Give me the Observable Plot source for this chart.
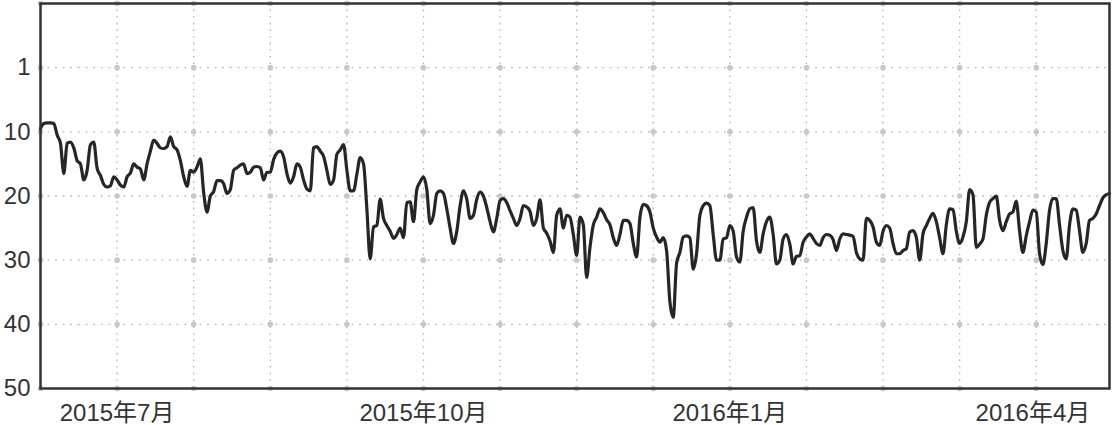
<!DOCTYPE html>
<html>
<head>
<meta charset="utf-8">
<script src="https://cdn.jsdelivr.net/npm/d3@7"></script>
<script src="https://cdn.jsdelivr.net/npm/@observablehq/plot@0.6"></script>
<style>
  html, body { margin: 0; padding: 0; background: #fff; }
  #chart svg { display: block; }
</style>
</head>
<body>
<div id="chart"></div>
<script>
// Daily rank series starting 2015-06-08
const startDate = "2015-06-08";
const endDate = "2016-04-24";
const rank = [
  9.5, 8.7, 8.6, 8.6, 8.7, 10.5, 11.8, 16.5, 11.8, 11.6,
  12.5, 14.5, 15.0, 17.5, 16.0, 12.0, 11.6, 15.7, 16.8, 18.2,
  18.6, 18.4, 17.0, 17.5, 18.3, 18.6, 17.0, 16.4, 15.0, 15.5,
  15.8, 17.5, 15.0, 13.0, 11.3, 11.8, 12.5, 12.6, 12.3, 10.8,
  12.3, 12.8, 14.5, 17.0, 18.5, 16.0, 16.3, 15.5, 14.2, 19.5,
  22.5, 20.0, 19.3, 17.6, 17.6, 18.1, 19.6, 19.0, 16.0, 15.6,
  15.2, 15.0, 16.5, 16.3, 15.5, 15.4, 15.6, 17.5, 16.3, 16.3,
  14.3, 13.3, 13.0, 13.9, 16.5, 18.0, 17.0, 15.0, 15.5, 17.5,
  18.9, 19.2, 12.5, 12.3, 13.0, 13.8, 16.0, 18.2, 17.5, 13.5,
  12.8, 12.0, 16.0, 19.2, 19.2, 16.6, 14.0, 15.0, 22.0, 29.8,
  24.8, 24.6, 20.5, 23.5, 24.6, 25.5, 26.6, 26.0, 25.0, 26.5,
  21.0, 20.9, 24.0, 19.0, 17.8, 17.0, 19.0, 24.3, 23.0, 19.6,
  19.2, 19.6, 22.0, 25.0, 27.4, 25.5, 21.5, 19.2, 20.5, 23.5,
  23.0, 20.5, 19.4, 20.0, 21.8, 24.0, 25.6, 23.5, 20.7, 20.4,
  21.0, 22.3, 23.5, 24.6, 23.5, 21.5, 21.7, 22.4, 24.6, 23.5,
  20.6, 25.0, 25.8, 27.0, 28.8, 23.0, 22.0, 25.0, 23.0, 23.3,
  26.0, 29.3, 23.3, 24.5, 32.7, 28.0, 24.5, 23.3, 22.0, 22.6,
  23.7, 24.5, 26.5, 27.7, 26.0, 23.8, 23.8, 24.3, 27.4, 29.5,
  23.3, 21.3, 21.5, 22.5, 25.0, 26.4, 27.2, 26.5, 28.5, 36.5,
  38.9, 30.5, 28.8, 26.4, 26.2, 26.5, 31.4, 29.0, 23.0, 21.5,
  21.1, 21.5, 26.0, 30.0, 30.0, 26.7, 26.5, 24.6, 25.5, 29.5,
  30.3, 25.5, 23.3, 22.0, 21.8, 27.0, 28.8, 25.9, 24.0, 23.3,
  26.0, 30.6, 30.0, 26.7, 26.0, 27.5, 30.6, 29.4, 29.3, 27.2,
  26.4, 25.9, 26.6, 27.4, 27.7, 26.5, 26.0, 26.1, 26.8, 28.5,
  26.7, 25.9, 26.0, 26.1, 26.3, 28.8, 29.8, 30.0, 23.5, 23.8,
  24.8, 27.2, 27.7, 25.5, 24.6, 25.0, 27.4, 29.0, 29.0, 28.5,
  28.2, 25.6, 25.4, 26.5, 30.0, 25.9, 24.6, 23.5, 22.7, 24.0,
  26.5, 29.0, 24.5, 22.0, 22.1, 25.5, 27.4, 26.4, 24.0, 19.0,
  19.8, 28.0, 27.5, 26.7, 23.0, 21.0, 20.4, 20.0, 23.8, 25.4,
  24.0, 22.8, 22.5, 20.8, 25.5, 28.8, 26.2, 24.0, 22.2, 22.5,
  29.0, 30.7, 27.4, 22.2, 20.4, 20.4, 24.5, 28.5, 29.8, 24.5,
  22.0, 22.2, 25.4, 28.8, 27.4, 23.8, 23.5, 22.8, 21.5, 20.3,
  19.8, 19.6
];

// Axis ticks
const xTickDates = ["2015-07-01", "2015-10-01", "2016-01-01", "2016-04-01"];
const xTickLabels = ["2015年7月", "2015年10月", "2016年1月", "2016年4月"];
const yTicks = [0, 10, 20, 30, 40, 50];
const yTickLabels = ["1", "10", "20", "30", "40", "50"];
// Grid positions
const xGridDates = ["2015-06-08", "2015-07-01", "2015-07-24", "2015-08-16", "2015-09-08",
  "2015-10-01", "2015-10-24", "2015-11-16", "2015-12-09", "2016-01-01",
  "2016-01-24", "2016-02-16", "2016-03-10", "2016-04-02"];
const yGrid = [-10, 0, 10, 20, 30, 40, 50];

const start = new Date(startDate + "T00:00:00Z");
const series = rank.map((v, i) => ({date: d3.utcDay.offset(start, i), rank: v}));
const xTicks = xTickDates.map(s => new Date(s + "T00:00:00Z"));
const xGrid = xGridDates.map(s => new Date(s + "T00:00:00Z"));
const crosses = d3.cross(xGrid, yGrid).map(([d, v]) => ({date: d, v}));
const xLabelMap = new Map(xTicks.map((d, i) => [+d, xTickLabels[i]]));
const yLabelMap = new Map(yTicks.map((d, i) => [d, yTickLabels[i]]));

const chart = Plot.plot({
  width: 1113,
  height: 425,
  marginLeft: 40,
  marginRight: 4,
  marginTop: 3,
  marginBottom: 37,
  style: {
    fontFamily: "'Liberation Sans', Arial, 'Noto Sans CJK SC', sans-serif",
    fontSize: "24px",
    color: "#333",
    background: "#fff"
  },
  x: {type: "utc", domain: [start, new Date(endDate + "T00:00:00Z")]},
  y: {domain: [-10, 50], reverse: true},
  marks: [
    Plot.ruleY(yGrid.filter(v => v > -10 && v < 50), {stroke: "#b5b5b5", strokeWidth: 1.3, strokeDasharray: "1.6,6"}),
    Plot.ruleX(xGrid, {stroke: "#b5b5b5", strokeWidth: 1.3, strokeDasharray: "1.6,5"}),
    Plot.dot(crosses, {x: "date", y: "v", r: 2.8, fill: "#c8c8c8", stroke: "none"}),
    Plot.axisY(yTicks, {tickSize: 0, tickPadding: 10, tickFormat: d => yLabelMap.get(d), fontSize: 24}),
    Plot.axisX(xTicks, {tickSize: 0, tickPadding: 15, tickFormat: d => xLabelMap.get(+d), fontSize: 24}),
    Plot.line(series, {x: "date", y: "rank", curve: "monotone-x", stroke: "#262626", strokeWidth: 3.2, strokeLinejoin: "round", strokeLinecap: "round"}),
    Plot.frame({stroke: "#333", strokeWidth: 2.5})
  ]
});
document.getElementById("chart").appendChild(chart);
</script>
</body>
</html>
